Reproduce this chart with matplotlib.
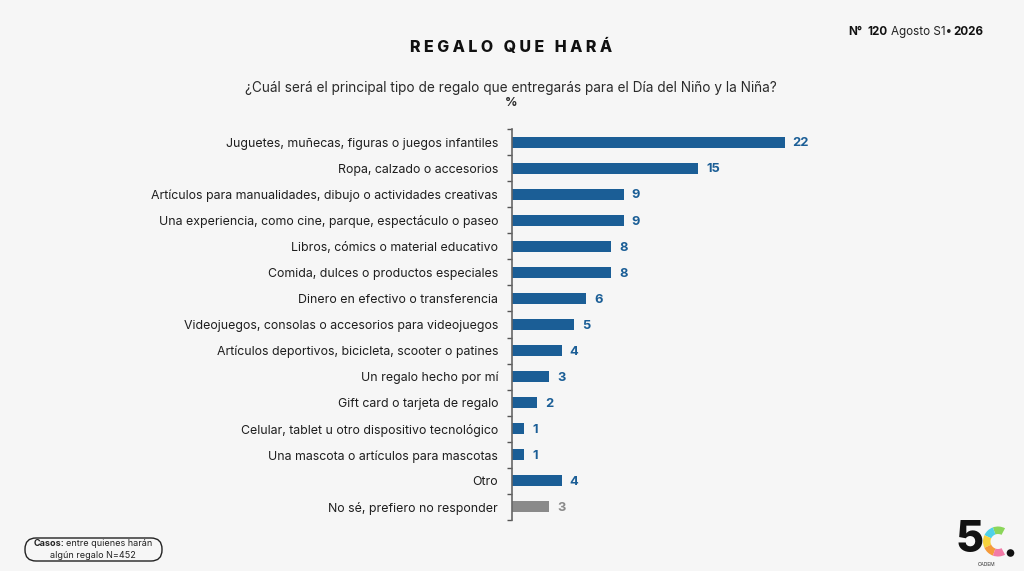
import matplotlib.pyplot as plt
from matplotlib.patches import FancyBboxPatch, Wedge, Circle

# data
categories = [
    'Juguetes, muñecas, figuras o juegos infantiles',
    'Ropa, calzado o accesorios',
    'Artículos para manualidades, dibujo o actividades creativas',
    'Una experiencia, como cine, parque, espectáculo o paseo',
    'Libros, cómics o material educativo',
    'Comida, dulces o productos especiales',
    'Dinero en efectivo o transferencia',
    'Videojuegos, consolas o accesorios para videojuegos',
    'Artículos deportivos, bicicleta, scooter o patines',
    'Un regalo hecho por mí',
    'Gift card o tarjeta de regalo',
    'Celular, tablet u otro dispositivo tecnológico',
    'Una mascota o artículos para mascotas',
    'Otro',
    'No sé, prefiero no responder',
]
values = [22, 15, 9, 9, 8, 8, 6, 5, 4, 3, 2, 1, 1, 4, 3]

BLUE = '#1b5e96'
GRAY = '#8a8a8a'
bar_colors = [BLUE] * (len(values) - 1) + [GRAY]

plt.rcParams['font.family'] = ['Inter', 'DejaVu Sans']

fig = plt.figure(figsize=(10.24, 5.71), dpi=100, facecolor='#f6f6f6')

# main bar axes
ax = fig.add_axes([512 / 1024, 1 - 520 / 571, (820 - 512) / 1024, 391 / 571])
ax.set_facecolor('none')
ypos = list(range(len(categories)))
ax.barh(ypos, values, height=0.42, color=bar_colors)
ax.set_xlim(0, 24.85)
ax.set_ylim(len(categories) - 0.5, -0.5)
ax.set_yticks(ypos)
ax.set_yticklabels(categories, fontsize=8.9, color='#1e1e1e')
ax.tick_params(axis='y', which='major', length=0, pad=10)
ax.set_yticks([i - 0.5 for i in range(len(categories) + 1)], minor=True)
ax.tick_params(axis='y', which='minor', length=3.6, width=1, color='#555555')
ax.set_xticks([])
for s in ['top', 'right', 'bottom']:
    ax.spines[s].set_visible(False)
ax.spines['left'].set_color('#666666')
ax.spines['left'].set_linewidth(1.2)

for i, v in enumerate(values):
    ax.text(v + 0.65, i + 0.05, str(v), va='center', ha='left', fontsize=9.3,
            fontweight='bold', color=bar_colors[i])

# overlay in pixel coordinates for titles and decorations
ov = fig.add_axes([0, 0, 1, 1])
ov.set_xlim(0, 1024)
ov.set_ylim(571, 0)
ov.axis('off')
ov.set_facecolor('none')

ov.text(511, 47, 'R E G A L O   Q U E   H A R Á', ha='center', va='center',
        fontsize=11.5, fontweight='heavy', color='#111111')
ov.text(511, 88, '¿Cuál será el principal tipo de regalo que entregarás para el Día del Niño y la Niña?',
        ha='center', va='center', fontsize=9.8, color='#2a2a2a')
ov.text(511, 103, '%', ha='center', va='center', fontsize=8.8, fontweight='bold', color='#2a2a2a')


def after(prev, s, gap, **kw):
    # place a text piece right after the previous one
    return ov.annotate(s, xy=(1, 0), xycoords=prev, xytext=(gap, 0),
                       textcoords='offset points', ha='left', va='bottom', **kw)


# edition tag, top right
t = ov.text(848, 32, 'N°', ha='left', va='center', fontsize=8.4, fontweight='bold', color='#111111')
t = after(t, '120', 3.5, fontsize=8.4, fontweight='bold', color='#111111')
t = after(t, 'Agosto S1•', 2.5, fontsize=8.4, color='#222222')
t = after(t, '2026', 1.5, fontsize=8.4, fontweight='bold', color='#111111')

# cases box, bottom left
box = FancyBboxPatch((25, 538), 137, 23, boxstyle='round,pad=0,rounding_size=11',
                     facecolor='none', edgecolor='#222222', linewidth=1)
ov.add_patch(box)
t = ov.text(34, 544, 'Casos:', ha='left', va='center', fontsize=6.5, fontweight='bold', color='#222222')
after(t, 'entre quienes harán', 1.2, fontsize=6.5, color='#222222')
ov.text(93, 555, 'algún regalo N=452', ha='center', va='center', fontsize=6.5, color='#222222')

# logo, bottom right
ov.text(970, 541, '5', ha='center', va='center', fontsize=31, fontweight='heavy', color='#111111')
c_segments = [(62, 110, '#8bd65a'), (110, 155, '#4fd1e8'), (155, 205, '#f7d23c'),
              (205, 250, '#f59a3a'), (250, 298, '#f27aa6')]
for a1, a2, col in c_segments:
    ov.add_patch(Wedge((998, 541.5), 15, -a2, -a1, width=7.5, facecolor=col, edgecolor='none'))
ov.add_patch(Circle((1010.5, 553), 3.8, facecolor='#111111', edgecolor='none'))
ov.text(987, 565, 'CADEM', ha='center', va='center', fontsize=3.5, color='#333333')

fig.savefig('out.png', dpi=100, facecolor=fig.get_facecolor())
